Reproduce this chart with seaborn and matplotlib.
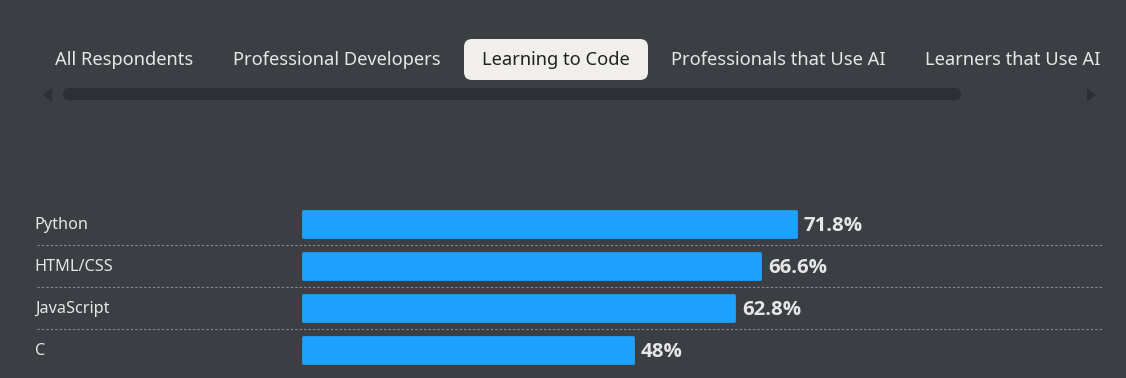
import matplotlib
matplotlib.use("Agg")
import pandas as pd
import seaborn as sns
import matplotlib.pyplot as plt
from matplotlib.patches import FancyBboxPatch, Polygon

# chart data
languages = ["Python", "HTML/CSS", "JavaScript", "C"]
shares = [71.8, 66.6, 62.8, 48.0]
value_labels = ["71.8%", "66.6%", "62.8%", "48%"]
tabs = ["All Respondents", "Professional Developers", "Learning to Code",
        "Professionals that Use AI", "Learners that Use AI"]
active_tab = "Learning to Code"

BG = "#3b3f44"
BAR = "#1da1fe"
TXT = "#e6e6e6"
TRACK = "#2c2f33"

sns.set_theme(style="white")
plt.rcParams["font.family"] = ["Noto Sans", "DejaVu Sans"]

W, H = 1126, 378
fig = plt.figure(figsize=(W / 100, H / 100), dpi=100, facecolor=BG)

# chrome layer in pixel coordinates (tabs, scroll bar)
bg = fig.add_axes([0, 0, 1, 1], zorder=0)
bg.set_xlim(0, W)
bg.set_ylim(H, 0)
bg.axis("off")

tab_centers = [124, 337, 556, 778, 1013]
for name, cx in zip(tabs, tab_centers):
    if name == active_tab:
        bg.add_patch(FancyBboxPatch((470, 45), 172, 29,
                                    boxstyle="round,pad=6,rounding_size=8",
                                    fc="#f0efeb", ec="none"))
        bg.text(cx, 60, name, ha="center", va="center", fontsize=13.2, color="#222222")
    else:
        bg.text(cx, 60, name, ha="center", va="center", fontsize=13.2, color=TXT)

bg.add_patch(FancyBboxPatch((63, 88), 898, 12,
                            boxstyle="round,pad=0,rounding_size=6",
                            fc=TRACK, ec="none"))
bg.add_patch(Polygon([(52, 88), (52, 102), (43, 95)], closed=True, fc=TRACK, ec="none"))
bg.add_patch(Polygon([(1087, 88), (1087, 102), (1096, 95)], closed=True, fc=TRACK, ec="none"))

# bar chart
df = pd.DataFrame({"language": languages, "share": shares})
scale = (796 - 303) / 71.8  # px per percent
left_px, right_px = 37, 1102
top_px, bot_px = 203, 371
ax = fig.add_axes([left_px / W, (H - bot_px) / H, (right_px - left_px) / W,
                   (bot_px - top_px) / H], zorder=1)
ax.set_facecolor("none")
sns.barplot(data=df, x="share", y="language", color=BAR, width=0.62,
            saturation=1, ax=ax, linewidth=2, edgecolor=BAR)
for p in ax.patches:
    p.set_joinstyle("round")
ax.set_xlim(-(303 - left_px) / scale, (right_px - 303) / scale)
ax.set_ylim(3.5, -0.5)
ax.axis("off")

for i, (lang, val, lab) in enumerate(zip(languages, shares, value_labels)):
    ax.text(-0.002, i + 0.03, lang, transform=ax.get_yaxis_transform(), ha="left",
            va="center", fontsize=11.7, color=TXT)
    ax.text(val + 1.1, i + 0.04, lab, ha="left", va="center", fontsize=14.7,
            fontweight="bold", color=TXT, family=["Open Sans", "DejaVu Sans"])
    ax.axhline(i + 0.5, color="#8a8d91", linestyle=(0, (2, 2)), linewidth=0.8)

fig.savefig("out.png", dpi=100, facecolor=BG)
